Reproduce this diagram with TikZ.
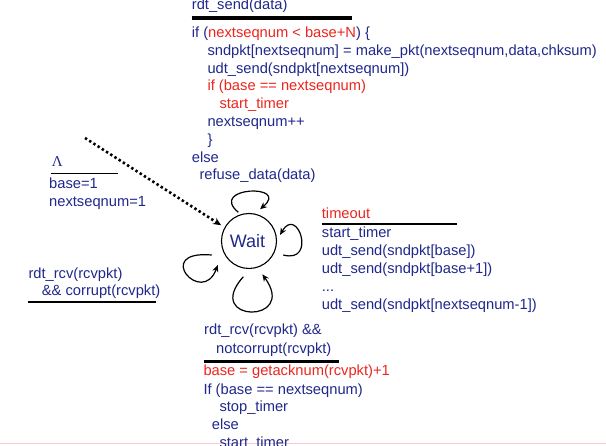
\documentclass[tikz,border=0pt]{standalone}
\usepackage{fontspec}
\setmainfont{Liberation Sans}
\newfontfamily\serifgreek{Liberation Serif}
\usetikzlibrary{arrows.meta,calc}

\definecolor{codeblue}{RGB}{32,40,140}
\definecolor{codered}{RGB}{236,38,30}
\definecolor{edgepink}{RGB}{250,205,205}

\tikzset{
  code/.style={anchor=base west, inner sep=0pt, text=codeblue, font=\fontsize{14.7}{17.8}\selectfont},
  hot/.style={code, text=codered},
  rule/.style={draw=black, line width=1.5pt},
  thickrule/.style={draw=black, line width=3.6pt},
  state/.style={circle, draw=black, line width=1.1pt, minimum size=55pt, inner sep=0pt,
                text=codeblue, font=\fontsize{18}{20}\selectfont},
  selfloop/.style={draw=black, line width=1.2pt, -{Stealth[length=7pt,width=6pt]}},
  initarrow/.style={draw=black, line width=2.6pt, dash pattern=on 2.4pt off 2.6pt,
                    -{Stealth[length=8pt,width=7pt]}, shorten >=4pt}
}

\begin{document}
\begin{tikzpicture}[x=1pt,y=1pt]
  \useasboundingbox (0,0) rectangle (606,-446);
  \fill[white] (0,0) rectangle (606,-446);
  \draw[edgepink, line width=1.4pt] (0,-443.5) -- (606,-443.5);

  % state
  \node[state] (wait) at (249,-241) {\hspace*{-3pt}Wait};

  % rdt_send transition
  \node[code] (send) at (191.7,-9.5) {rdt\_send(data)};
  \coordinate (sendL) at (191.7,-18.3);
  \coordinate (sendR) at (351.7,-18.3);
  \draw[thickrule] (sendL) -- (sendR);
  \node[code] (s1) at (191.7,-37.5) {if (\textcolor{codered}{nextseqnum < base+N}) \{};
  \node[code] (s2) at (207.3,-55.3) {sndpkt[nextseqnum] = make\_pkt(nextseqnum,data,chksum)};
  \node[code] (s3) at (207.3,-73.1) {udt\_send(sndpkt[nextseqnum])};
  \node[hot]  (s4) at (207.3,-90.9) {if (base == nextseqnum)};
  \node[hot]  (s5) at (219.3,-108.7) {start\_timer};
  \node[code] (s6) at (207.3,-126.5) {nextseqnum++};
  \node[code] (s7) at (207.3,-144.3) {\}};
  \node[code] (s8) at (191.7,-162.1) {else};
  \node[code] (s9) at (199.3,-180) {refuse\_data(data)};

  % initial transition
  \node[code, font=\serifgreek\fontsize{15}{17}\selectfont] (lam) at (51.7,-166.7) {Λ};
  \coordinate (lamL) at (50.7,-173.3);
  \coordinate (lamR) at (118.3,-173.3);
  \draw[rule] (lamL) -- (lamR);
  \node[code] (i1) at (49,-188.5) {base=1};
  \node[code] (i2) at (49,-206.5) {nextseqnum=1};

  % corrupt ACK
  \node[code] (c1) at (28.3,-278.3) {rdt\_rcv(rcvpkt)};
  \node[code] (c2) at (41.7,-295.7) {\&\& corrupt(rcvpkt)};
  \coordinate (cL) at (28.3,-302.3);
  \coordinate (cR) at (156,-302.3);
  \draw[draw=black, line width=2pt] (cL) -- (cR);

  % timeout
  \node[hot]  (t0) at (321.7,-218.3) {timeout};
  \coordinate (tL) at (321.7,-224);
  \coordinate (tR) at (456.7,-224);
  \draw[rule] (tL) -- (tR);
  \node[code] (t1) at (321.7,-237.3) {start\_timer};
  \node[code] (t2) at (321.7,-255.3) {udt\_send(sndpkt[base])};
  \node[code] (t3) at (321.7,-273.3) {udt\_send(sndpkt[base+1])};
  \node[code] (t4) at (321.7,-291.3) {...};
  \node[code] (t5) at (321.7,-309.3) {udt\_send(sndpkt[nextseqnum-1])};

  % good ACK
  \node[code] (a1) at (204,-335) {rdt\_rcv(rcvpkt) \&\&};
  \node[code] (a2) at (216,-353.3) {notcorrupt(rcvpkt)};
  \coordinate (aL) at (204,-361.7);
  \coordinate (aR) at (339.3,-361.7);
  \draw[draw=black, line width=3.2pt] (aL) -- (aR);
  \node[hot]  (a3) at (203.3,-376) {base = getacknum(rcvpkt)+1};
  \node[code] (a4) at (203.3,-394.3) {If (base == nextseqnum)};
  \node[code] (a5) at (219.3,-411.7) {stop\_timer};
  \node[code] (a6) at (211.7,-430) {else};
  \node[code] (a7) at (219.3,-448) {start\_timer};

  % loop end points around the state
  \coordinate (topA) at ($(wait.center)+(110.4:30.6)$);
  \coordinate (topB) at ($(wait.center)+(70.9:33.6)$);
  \coordinate (rgtA) at ($(wait.center)+(-22.2:37)$);
  \coordinate (rgtB) at ($(wait.center)+(11:31.6)$);
  \coordinate (lftA) at ($(wait.center)+(200.6:39.8)$);
  \coordinate (lftB) at ($(wait.center)+(217.5:39.4)$);
  \coordinate (botA) at ($(wait.center)+(261:36.2)$);
  \coordinate (botB) at ($(wait.center)+(291.8:35.9)$);

  \draw[selfloop] (topA) .. controls +(140:40) and +(40:40) .. (topB);
  \draw[selfloop] (rgtA) .. controls +(-15:35) and +(60:35) .. (rgtB);
  \draw[selfloop] (lftA) .. controls +(175:60) and +(250:45) .. (lftB);
  \draw[selfloop] (botA) .. controls +(228:62) and +(306:62) .. (botB);

  % initial arrow
  \coordinate (init) at (85,-138);
  \draw[initarrow] (init) -- (wait.151);
\end{tikzpicture}
\end{document}
